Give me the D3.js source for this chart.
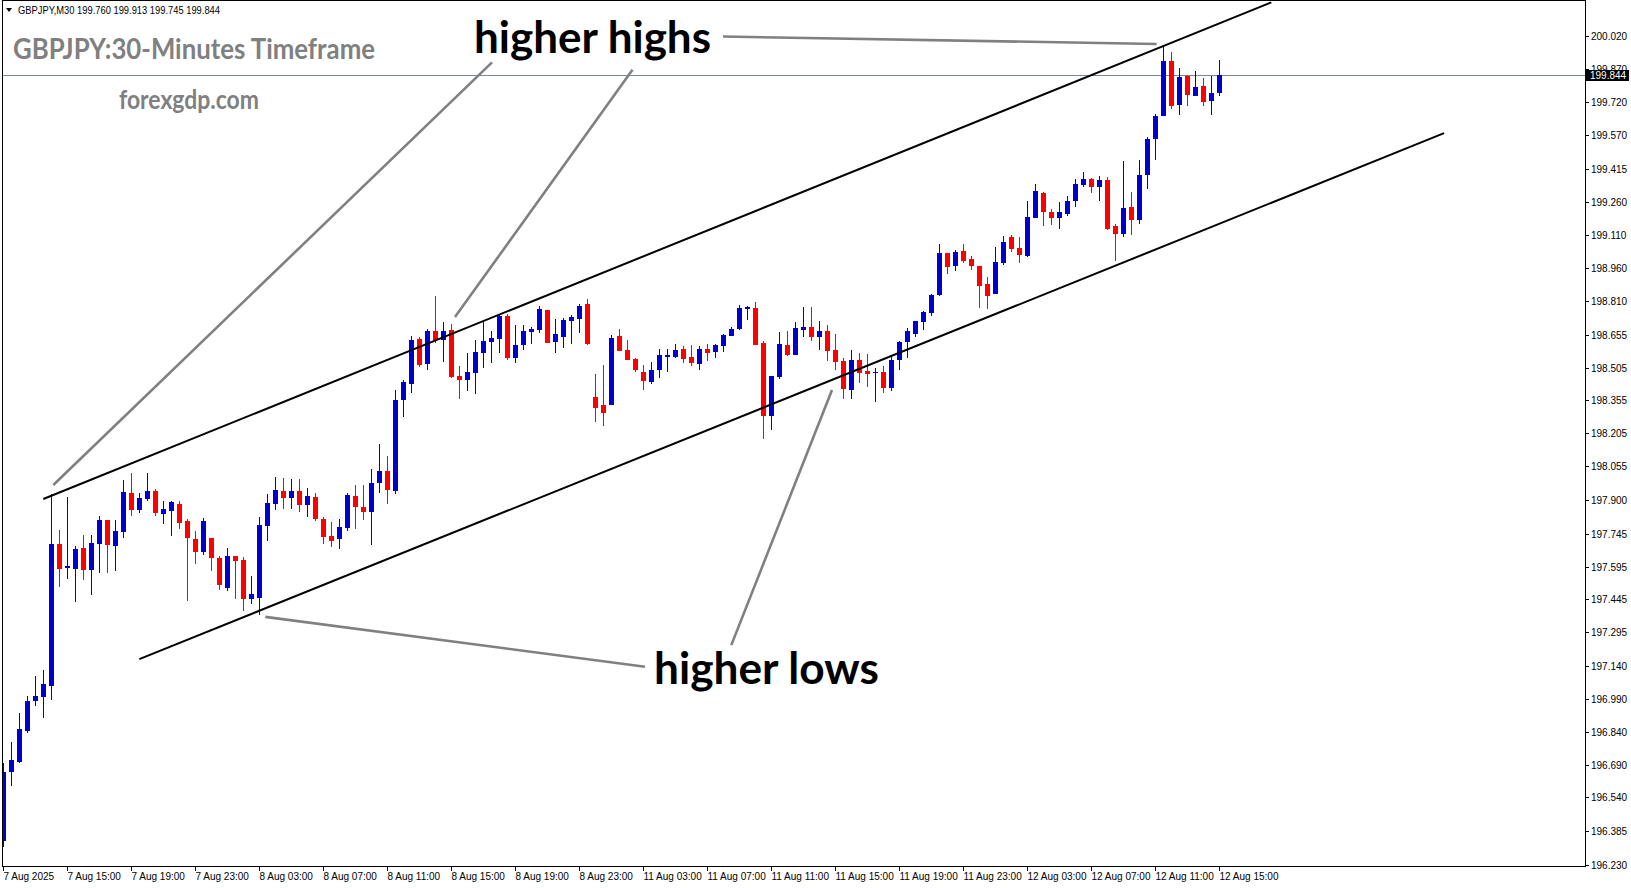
<!DOCTYPE html>
<html><head><meta charset="utf-8">
<script src="https://cdn.jsdelivr.net/npm/d3@7"></script>
<style>html,body{margin:0;padding:0;background:#fff;overflow:hidden}</style>
</head><body><svg id="c" width="1631" height="888"></svg>
<script>
// ---------- DATA (GBPJPY M30, index 0 = 7 Aug 2025 11:00) ----------
const openP = [196.342,196.657,196.703,196.843,196.982,197.000,197.050,197.698,197.590,197.585,
197.680,197.581,197.700,197.808,197.691,197.755,197.932,197.855,197.905,197.941,
197.837,197.851,197.881,197.803,197.721,197.663,197.726,197.636,197.498,197.643,
197.625,197.448,197.453,197.782,197.883,197.941,197.910,197.941,197.877,197.912,
197.813,197.735,197.723,197.773,197.918,197.868,197.846,197.979,198.032,197.941,
198.357,198.431,198.636,198.523,198.672,198.633,198.677,198.467,198.448,198.480,
198.572,198.622,198.636,198.741,198.549,198.608,198.668,198.677,198.768,198.622,
198.645,198.718,198.727,198.796,198.371,198.334,198.334,198.649,198.585,198.544,
198.485,198.439,198.494,198.553,198.553,198.590,198.553,198.521,198.590,198.576,
198.604,198.649,198.682,198.773,198.778,198.617,198.284,198.462,198.608,198.563,
198.677,198.691,198.645,198.672,198.585,198.535,198.403,198.540,198.489,198.482,
198.486,198.413,198.540,198.622,198.659,198.713,198.755,198.837,199.029,198.970,
199.038,199.002,198.970,198.887,198.842,198.983,199.102,199.052,199.015,199.189,
199.303,199.217,199.189,199.207,199.267,199.340,199.367,199.331,199.363,199.153,
199.116,199.239,199.180,199.386,199.550,199.656,199.907,199.706,199.838,199.747,
199.793,199.724,199.760];
const highP = [196.695,196.793,196.924,197.003,197.095,197.122,197.926,197.762,197.913,197.689,
197.739,197.739,197.826,197.808,197.808,197.991,198.023,197.932,198.023,197.950,
197.895,197.895,197.895,197.813,197.758,197.817,197.726,197.645,197.680,197.643,
197.639,197.552,197.822,197.927,198.005,198.000,197.994,197.994,197.953,197.930,
197.823,197.799,197.813,197.930,197.968,197.968,198.041,198.157,198.102,198.403,
198.448,198.650,198.645,198.682,198.832,198.713,198.704,198.512,198.572,198.631,
198.718,198.672,198.750,198.750,198.700,198.700,198.691,198.787,198.768,198.727,
198.732,198.745,198.796,198.819,198.476,198.517,198.654,198.682,198.631,198.549,
198.517,198.531,198.590,198.590,198.613,198.604,198.608,198.604,198.613,198.613,
198.659,198.691,198.791,198.787,198.805,198.627,198.467,198.668,198.672,198.713,
198.782,198.782,198.718,198.700,198.659,198.549,198.585,198.572,198.567,198.502,
198.512,198.552,198.627,198.686,198.718,198.764,198.842,199.070,199.029,199.043,
199.070,199.015,198.970,198.919,199.057,199.107,199.111,199.102,199.267,199.345,
199.308,199.230,199.262,199.290,199.367,199.399,199.372,199.381,199.377,199.162,
199.450,199.308,199.454,199.559,199.665,199.976,199.948,199.875,199.843,199.861,
199.829,199.838,199.913];
const lowP = [196.314,196.593,196.695,196.835,196.959,196.904,196.985,197.503,197.540,197.434,
197.534,197.466,197.567,197.567,197.576,197.727,197.828,197.841,197.896,197.828,
197.791,197.736,197.768,197.439,197.608,197.649,197.576,197.489,197.485,197.448,
197.393,197.425,197.375,197.713,197.854,197.860,197.860,197.846,197.823,197.805,
197.700,197.686,197.677,197.759,197.768,197.809,197.694,197.933,197.881,197.928,
198.281,198.390,198.509,198.495,198.617,198.532,198.457,198.361,198.398,198.386,
198.505,198.527,198.573,198.540,198.527,198.585,198.613,198.663,198.617,198.572,
198.595,198.613,198.663,198.608,198.256,198.239,198.334,198.581,198.540,198.485,
198.403,198.430,198.457,198.486,198.549,198.526,198.512,198.494,198.535,198.549,
198.576,198.649,198.677,198.723,198.608,198.180,198.221,198.453,198.558,198.563,
198.645,198.627,198.585,198.535,198.494,198.361,198.361,198.435,198.416,198.349,
198.390,198.399,198.494,198.549,198.645,198.677,198.741,198.832,198.933,198.947,
198.983,198.951,198.778,198.773,198.842,198.974,199.034,198.983,199.011,199.189,
199.153,199.157,199.139,199.198,199.239,199.331,199.303,199.267,199.134,198.992,
199.102,199.111,199.162,199.322,199.454,199.656,199.688,199.660,199.701,199.747,
199.701,199.660,199.745];
const closeP = [196.654,196.711,196.852,196.980,197.003,197.058,197.698,197.585,197.598,197.675,
197.581,197.703,197.808,197.695,197.758,197.936,197.855,197.909,197.941,197.841,
197.858,197.890,197.796,197.727,197.663,197.803,197.636,197.512,197.643,197.622,
197.448,197.470,197.785,197.886,197.945,197.910,197.941,197.877,197.918,197.813,
197.732,197.713,197.776,197.922,197.869,197.846,197.977,198.032,197.945,198.357,
198.439,198.631,198.518,198.672,198.631,198.672,198.462,198.448,198.485,198.576,
198.627,198.640,198.741,198.549,198.608,198.672,198.682,198.773,198.617,198.659,
198.723,198.736,198.787,198.613,198.320,198.299,198.640,198.581,198.540,198.494,
198.444,198.494,198.563,198.563,198.585,198.544,198.526,198.590,198.572,198.608,
198.654,198.682,198.778,198.782,198.608,198.284,198.467,198.613,198.563,198.686,
198.691,198.645,198.672,198.581,198.531,198.407,198.540,198.480,198.476,198.486,
198.413,198.540,198.622,198.672,198.718,198.759,198.837,199.029,198.965,199.034,
198.992,198.970,198.878,198.832,198.988,199.079,199.047,199.020,199.194,199.313,
199.217,199.189,199.217,199.267,199.345,199.367,199.331,199.363,199.139,199.116,
199.235,199.180,199.386,199.550,199.656,199.907,199.701,199.834,199.752,199.788,
199.720,199.761,199.844];
const timeLabels = ["7 Aug 2025","7 Aug 15:00","7 Aug 19:00","7 Aug 23:00","8 Aug 03:00","8 Aug 07:00",
"8 Aug 11:00","8 Aug 15:00","8 Aug 19:00","8 Aug 23:00","11 Aug 03:00","11 Aug 07:00","11 Aug 11:00",
"11 Aug 15:00","11 Aug 19:00","11 Aug 23:00","12 Aug 03:00","12 Aug 07:00","12 Aug 11:00","12 Aug 15:00"];
const priceTicks = ["200.020","199.870","199.720","199.570","199.415","199.260","199.110","198.960","198.810",
"198.655","198.505","198.355","198.205","198.055","197.900","197.745","197.595","197.445","197.295",
"197.140","196.990","196.840","196.690","196.540","196.385","196.230"];
const lastPrice = 199.844;
const headerText = "GBPJPY,M30  199.760 199.913 199.745 199.844";
// channel lines & pointer lines: [candle index, price]
const channelUpper = [[5,197.904],[158.5,200.175]];
const channelLower = [[17,197.172],[180.1,199.577]];
const pointers = [
  [[6.25,197.968],[61.09,199.901]],
  [[56.46,198.736],[78.65,199.867]],
  [[89.96,200.019],[144.17,199.985]],
  [[32.75,197.365],[80.21,197.137]],
  [[103.59,198.403],[91.0,197.236]]
];

// ---------- LAYOUT ----------
const svg = d3.select("#c");
const L = 2, T = 0, R = 1585, B = 866;
const x = d3.scaleLinear().domain([0, closeP.length - 1]).range([3.3, 3.3 + 8 * (closeP.length - 1)]);
const y = d3.scaleLinear().domain([196.230, 200.020]).range([865.1, 36.3]);
const BLUE = "#0000cd", RED = "#ff0000";

svg.append("rect").attr("width", 1631).attr("height", 888).attr("fill", "#fff");
svg.append("defs").append("clipPath").attr("id", "clip")
  .append("rect").attr("x", L).attr("y", T).attr("width", R - L).attr("height", B - T);

const plotG = svg.append("g").attr("clip-path", "url(#clip)");

// bid line
plotG.append("line").attr("x1", L).attr("x2", R)
  .attr("y1", Math.round(y(lastPrice)) + 0.5).attr("y2", Math.round(y(lastPrice)) + 0.5)
  .attr("stroke", "#778899").attr("stroke-width", 1);

// candles
const data = closeP.map((c, i) => ({ i, o: openP[i], h: highP[i], l: lowP[i], c }));
const cg = plotG.append("g").attr("shape-rendering", "crispEdges");
const candle = cg.selectAll("g").data(data).join("g");
candle.append("rect")
  .attr("x", d => Math.floor(x(d.i)))
  .attr("width", 1)
  .attr("y", d => Math.round(y(d.h)))
  .attr("height", d => Math.max(1, Math.round(y(d.l)) - Math.round(y(d.h))))
  .attr("fill", d => d.c >= d.o ? BLUE : RED);
candle.append("rect")
  .attr("x", d => Math.floor(x(d.i)) - 2)
  .attr("width", 5)
  .attr("y", d => Math.round(y(Math.max(d.o, d.c))))
  .attr("height", d => Math.max(1, Math.round(y(Math.min(d.o, d.c))) - Math.round(y(Math.max(d.o, d.c)))))
  .attr("fill", d => d.c >= d.o ? BLUE : RED);

// channel lines
const lineGen = d3.line().x(d => x(d[0])).y(d => y(d[1]));
[channelUpper, channelLower].forEach(p => plotG.append("path").attr("d", lineGen(p))
  .attr("stroke", "#000").attr("stroke-width", 2).attr("fill", "none"));
pointers.forEach(p => plotG.append("path").attr("d", lineGen(p))
  .attr("stroke", "#808080").attr("stroke-width", 2.6).attr("fill", "none"));

// annotation texts
function fitText(sel, w) { sel.attr("textLength", w).attr("lengthAdjust", "spacingAndGlyphs"); return sel; }
fitText(svg.append("text").attr("x", 474).attr("y", 53).text("higher highs")
  .attr("font-family", "Lato, 'Open Sans', sans-serif").attr("font-weight", 700)
  .attr("font-size", 44).attr("fill", "#000"), 237);
fitText(svg.append("text").attr("x", 654).attr("y", 684).text("higher lows")
  .attr("font-family", "Lato, 'Open Sans', sans-serif").attr("font-weight", 700)
  .attr("font-size", 44).attr("fill", "#000"), 225);
fitText(svg.append("text").attr("x", 13).attr("y", 59).text("GBPJPY:30-Minutes Timeframe")
  .attr("font-family", "Lato, 'Open Sans', sans-serif").attr("font-weight", 700)
  .attr("font-size", 28).attr("fill", "#808080"), 362);
fitText(svg.append("text").attr("x", 119).attr("y", 109).text("forexgdp.com")
  .attr("font-family", "Lato, 'Open Sans', sans-serif").attr("font-weight", 700)
  .attr("font-size", 27).attr("fill", "#808080"), 140);

// header
svg.append("path").attr("d", "M6,8 L12,8 L9,12 Z").attr("fill", "#000");
fitText(svg.append("text").attr("x", 18).attr("y", 14).text(headerText)
  .attr("font-family", "'Liberation Sans', Arial, sans-serif").attr("font-size", 10.5).attr("fill", "#000"), 202);

// frame
svg.append("rect").attr("x", L + 0.5).attr("y", T + 0.5).attr("width", R - L).attr("height", B - T)
  .attr("fill", "none").attr("stroke", "#000").attr("stroke-width", 1).attr("shape-rendering", "crispEdges");

// y axis
const yAxis = svg.append("g").attr("shape-rendering", "crispEdges");
priceTicks.forEach(t => {
  const yy = Math.round(y(+t));
  yAxis.append("line").attr("x1", R + 1).attr("x2", R + 4).attr("y1", yy + 0.5).attr("y2", yy + 0.5).attr("stroke", "#000");
  yAxis.append("text").attr("x", 1591).attr("y", yy + 3.5).text(t)
    .attr("font-family", "'Liberation Sans', Arial, sans-serif").attr("font-size", 10).attr("fill", "#000");
});
// last price box
const ly = Math.round(y(lastPrice));
svg.append("rect").attr("x", 1586).attr("y", ly - 5).attr("width", 43).attr("height", 11).attr("fill", "#000");
svg.append("text").attr("x", 1590).attr("y", ly + 4).text(lastPrice.toFixed(3))
  .attr("font-family", "'Liberation Sans', Arial, sans-serif").attr("font-size", 10).attr("fill", "#fff");

// x axis
const xAxis = svg.append("g");
timeLabels.forEach((t, k) => {
  const xx = Math.floor(x(k * 8));
  xAxis.append("line").attr("x1", xx + 0.5).attr("x2", xx + 0.5).attr("y1", B).attr("y2", B + 5)
    .attr("stroke", "#000").attr("shape-rendering", "crispEdges");
  xAxis.append("text").attr("x", xx + 0.5).attr("y", B + 14).text(t)
    .attr("font-family", "'Liberation Sans', Arial, sans-serif").attr("font-size", 10).attr("fill", "#000");
});
</script></body></html>
